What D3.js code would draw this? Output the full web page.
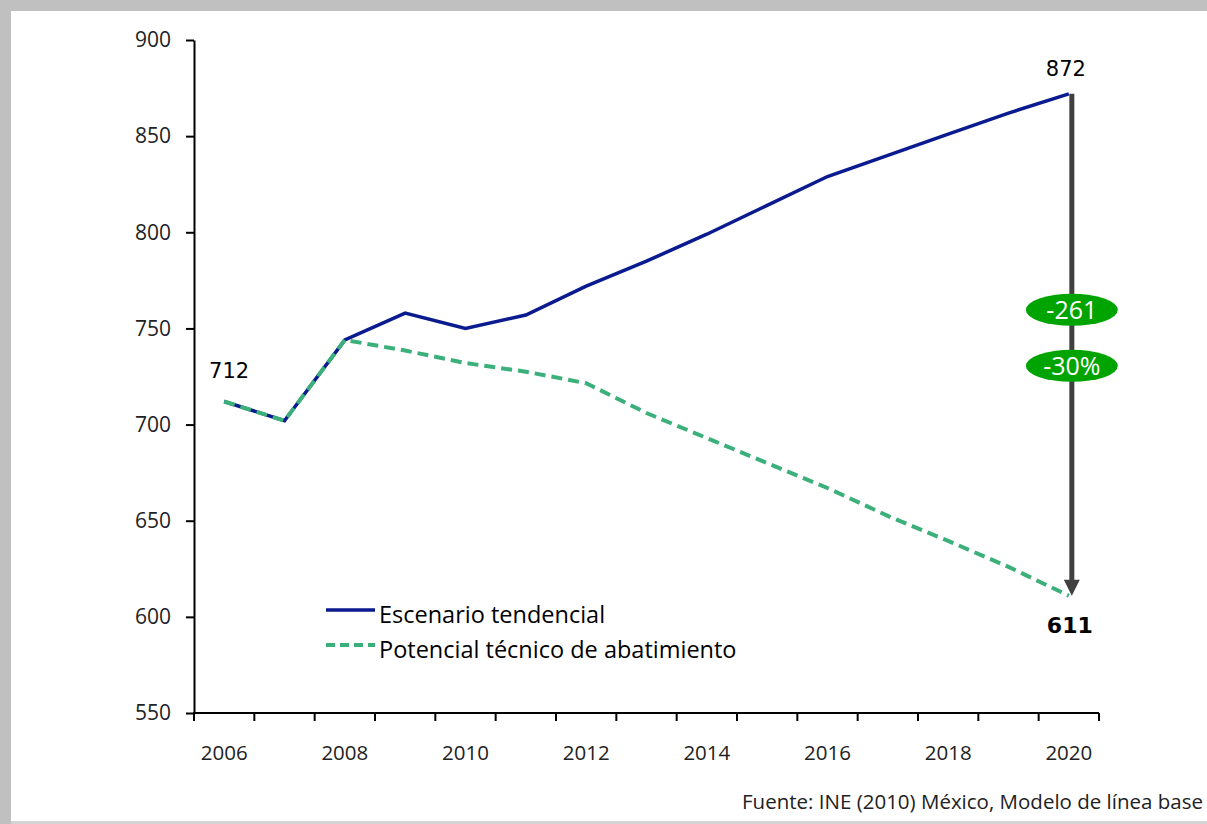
<!DOCTYPE html>
<html>
<head>
<meta charset="utf-8">
<script src="https://cdn.jsdelivr.net/npm/d3@7"></script>
<style>
  body { margin: 0; background: #c0c0c0; }
  svg { display: block; }
</style>
</head>
<body>
<svg id="chart" width="1207" height="824"></svg>
<script>
// data (MtCO2e)
const years = [2006, 2007, 2008, 2009, 2010, 2011, 2012, 2013, 2014, 2015, 2016, 2017, 2018, 2019, 2020];
const tendencial = [712, 702, 744, 758, 750, 757, 772, 785, 799, 814, 829, 840, 851, 862, 872];
const potencial = [712, 702, 744, 738.5, 732, 727.5, 721.5, 706, 693, 680, 667, 652.5, 639.5, 626, 611];
const yTicks = [550, 600, 650, 700, 750, 800, 850, 900];
const xLabels = [2006, 2008, 2010, 2012, 2014, 2016, 2018, 2020];
const seriesNames = ["Escenario tendencial", "Potencial técnico de abatimiento"];
const badges = ["-261", "-30%"];

let svg = d3.select("#chart");

// grey frame, white panel
svg.append("rect").attr("width", 1207).attr("height", 824).attr("fill", "#c0c0c0");
svg.append("rect").attr("x", 11).attr("y", 11).attr("width", 1196).attr("height", 811).attr("fill", "#ffffff");
svg.append("rect").attr("x", 11).attr("y", 821).attr("width", 1196).attr("height", 3).attr("fill", "#d4d4d4");

let x = d3.scaleBand()
    .domain(years)
    .range([194, 1099])
    .padding(0);

let y = d3.scaleLinear()
    .domain([550, 900])
    .range([713, 40]);

// y axis
let yAxis = svg.append("g")
    .attr("transform", "translate(194,0)")
    .call(d3.axisLeft(y).tickValues(yTicks).tickSize(8).tickPadding(15).tickSizeOuter(0));
yAxis.select(".domain").attr("stroke", "#000").attr("stroke-width", 2);
yAxis.selectAll(".tick line").attr("stroke", "#000").attr("stroke-width", 2);
yAxis.selectAll("text")
    .style("font-family", "Open Sans").style("font-size", "21px").style("fill", "#222");

// x axis: ticks on band edges, labels on every other band centre
let edges = years.map(d => x(d)).concat([x(years[years.length - 1]) + x.bandwidth()]);
let xg = svg.append("g");
xg.append("line")
    .attr("x1", 193).attr("x2", 1099)
    .attr("y1", y(550)).attr("y2", y(550))
    .attr("stroke", "#000").attr("stroke-width", 2);
xg.selectAll("line.tk")
    .data(edges)
    .join("line")
    .attr("class", "tk")
    .attr("x1", d => d).attr("x2", d => d)
    .attr("y1", y(550)).attr("y2", y(550) + 8)
    .attr("stroke", "#000").attr("stroke-width", 2);
xg.selectAll("text")
    .data(xLabels)
    .join("text")
    .attr("x", d => x(d) + x.bandwidth() / 2)
    .attr("y", 760)
    .attr("text-anchor", "middle")
    .style("font-family", "Open Sans").style("font-size", "20.5px").style("fill", "#222")
    .text(d => d);

let line = d3.line()
    .x((d, i) => x(years[i]) + x.bandwidth() / 2)
    .y(d => y(d));

svg.append("path")
    .attr("d", line(tendencial))
    .attr("fill", "none")
    .attr("stroke", "#0a1a8f")
    .attr("stroke-width", 3.5);

svg.append("path")
    .attr("d", line(potencial))
    .attr("fill", "none")
    .attr("stroke", "#3bb07a")
    .attr("stroke-width", 4)
    .attr("stroke-dasharray", "11,6");

// arrow from 2020 tendencial down to 2020 potencial
let xEnd = x(2020) + x.bandwidth() / 2 + 3;
let yTop = y(tendencial[tendencial.length - 1]);
let yBot = y(potencial[potencial.length - 1]);
svg.append("line")
    .attr("x1", xEnd).attr("x2", xEnd)
    .attr("y1", yTop).attr("y2", yBot - 14)
    .attr("stroke", "#404040").attr("stroke-width", 5);
svg.append("path")
    .attr("d", `M${xEnd - 8},${yBot - 16}L${xEnd + 8},${yBot - 16}L${xEnd},${yBot}Z`)
    .attr("fill", "#404040");

// green badges
let badgeY = [y(tendencial[14]) + 216, y(tendencial[14]) + 272];
badges.forEach(function (b, i) {
    svg.append("ellipse")
        .attr("cx", xEnd).attr("cy", badgeY[i])
        .attr("rx", 46).attr("ry", 16)
        .attr("fill", "#00a400");
    svg.append("text")
        .attr("x", xEnd).attr("y", badgeY[i] + 9)
        .attr("text-anchor", "middle")
        .style("font-family", "Open Sans").style("font-size", "25px").style("fill", "#fff")
        .text(b);
});

// value labels
svg.append("text")
    .attr("x", x(2006) + x.bandwidth() / 2 + 5).attr("y", 378)
    .attr("text-anchor", "middle")
    .style("font-family", "DejaVu Sans").style("font-size", "21px").style("fill", "#000")
    .text(tendencial[0]);
svg.append("text")
    .attr("x", xEnd - 6).attr("y", 76)
    .attr("text-anchor", "middle")
    .style("font-family", "DejaVu Sans").style("font-size", "21px").style("fill", "#000")
    .text(tendencial[14]);
svg.append("text")
    .attr("x", xEnd - 2).attr("y", 633)
    .attr("text-anchor", "middle")
    .style("font-family", "DejaVu Sans").style("font-weight", "bold").style("font-size", "22px").style("fill", "#000")
    .text(potencial[14]);

// legend
let legend = svg.append("g").attr("transform", "translate(326,610)");
seriesNames.forEach(function (name, i) {
    legend.append("line")
        .attr("x1", 0).attr("x2", 49)
        .attr("y1", i * 35).attr("y2", i * 35)
        .attr("stroke", i == 0 ? "#0a1a8f" : "#3bb07a")
        .attr("stroke-width", i == 0 ? 3.5 : 4)
        .attr("stroke-dasharray", i == 0 ? null : "9,5");
    legend.append("text")
        .attr("x", 53).attr("y", i * 35 + 13)
        .style("font-family", "Open Sans").style("font-size", "23.5px").style("fill", "#000")
        .text(name);
});

// source
svg.append("text")
    .attr("x", 742).attr("y", 809)
    .style("font-family", "Open Sans").style("font-size", "20.5px").style("fill", "#222")
    .text("Fuente: INE (2010) México, Modelo de línea base");
</script>
</body>
</html>
